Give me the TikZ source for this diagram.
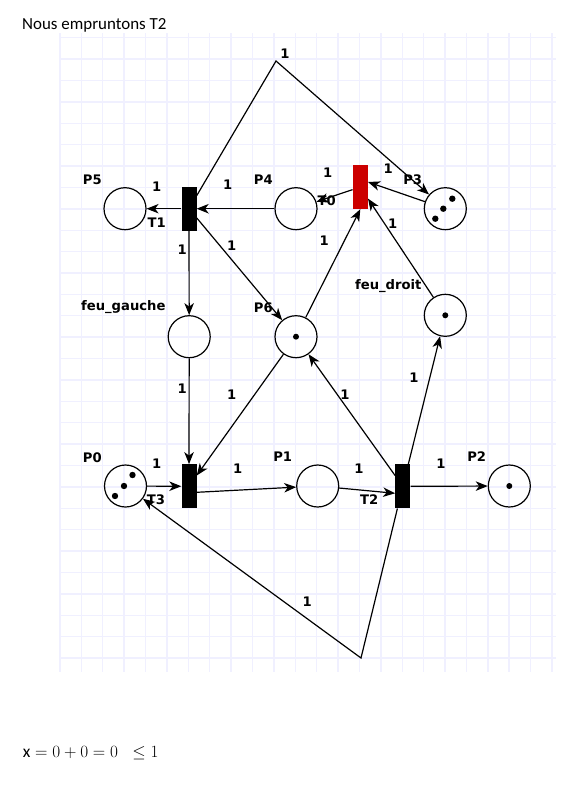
\documentclass[tikz,border=0pt]{standalone}
\usepackage{fontspec}
\setmainfont{Carlito}
\newfontfamily\lblfont{DejaVu Sans}
\usetikzlibrary{arrows.meta}
\definecolor{gridLav}{RGB}{240,240,255}
\definecolor{trRed}{RGB}{204,0,0}

\begin{document}
\begin{tikzpicture}[x=1bp,y=-1bp,
    pl/.style={circle,draw,line width=1.2bp,minimum size=42bp,inner sep=0pt},
    tr/.style={rectangle,fill=black,minimum width=15bp,minimum height=44bp,inner sep=0pt},
    arc/.style={line width=1.2bp,-{Stealth[length=12bp,width=9.5bp,inset=3.5bp]}},
    wt/.style={font=\lblfont\bfseries\fontsize{13.2}{13.2}\selectfont,inner sep=0pt},
    tok/.style={fill=black}
  ]
  \useasboundingbox (0,0) rectangle (574,791);
  % squared paper
  \foreach \i in {0,...,23}
    \draw[gridLav,line width=1.4bp] ({60+21.39*\i},33) -- ({60+21.39*\i},672);
  \foreach \j in {0,...,29}
    \draw[gridLav,line width=1.4bp] (60,{37.7+21.39*\j}) -- (556,{37.7+21.39*\j});

  \node[anchor=base west,inner sep=0pt,font=\fontsize{17}{19}\selectfont] (title) at (22,29.3) {Nous empruntons T2};

  % places and transitions
  \node[pl] (p5) at (125,208.7) {};
  \node[tr] (t1) at (189,208.7) {};
  \node[pl] (p4) at (296,208.7) {};
  \node[tr,fill=trRed] (t0) at (360.3,187) {};
  \node[pl] (p3) at (445.3,208.7) {};
  \node[pl] (fg) at (189.2,336.7) {};
  \node[pl] (p6) at (296,336.7) {};
  \node[pl] (fd) at (445.3,315.3) {};
  \node[pl] (p0) at (125.5,486) {};
  \node[tr] (t3) at (189,486.3) {};
  \node[pl] (p1) at (317.7,486) {};
  \node[tr] (t2) at (402.8,486.3) {};
  \node[pl] (p2) at (509.3,486) {};
  \coordinate (top) at (276,61);
  \coordinate (bot) at (361,658);

  % tokens
  \fill[tok] (p6.center) circle (3bp);
  \fill[tok] (fd.center) circle (3bp);
  \fill[tok] (p2.center) circle (3bp);
  \fill[tok] ([shift={(-10,10)}]p3.center) circle (3.2bp);
  \fill[tok] ([shift={(-2,0)}]p3.center) circle (3.2bp);
  \fill[tok] ([shift={(7,-10)}]p3.center) circle (3.2bp);
  \fill[tok] ([shift={(-10.5,10)}]p0.center) circle (3.2bp);
  \fill[tok] ([shift={(-1.5,0)}]p0.center) circle (3.2bp);
  \fill[tok] ([shift={(7,-11)}]p0.center) circle (3.2bp);

  % arcs
  \draw[arc] (t1) -- (p5);
  \draw[arc] (p4) -- (t1);
  \draw[arc] (t1) -- (top) -- (p3);
  \draw[arc] (t1) -- (fg);
  \draw[arc] (t1) -- (p6);
  \draw[arc] (t0) -- (p4);
  \draw[arc] (p3) -- ([yshift=5bp]t0.east);
  \draw[arc] (p6) -- (t0.south);
  \draw[arc] (fd) -- (t0);
  \draw[arc] (fg) -- (t3);
  \draw[arc] (p6) -- (t3);
  \draw[arc] (p0) -- (t3);
  \draw[arc] ([yshift=-6bp]t3.east) -- (p1);
  \draw[arc] (p1) -- ([yshift=-7bp]t2.west);
  \draw[arc] (t2) -- (p2);
  \draw[arc] (t2) -- (p6);
  \draw[arc] (t2) -- (fd);
  \draw[arc] (t2) -- (bot) -- (p0);

  % names
  \node[wt] (lp5) at (92.3,179.3) {P5};
  \node[wt] (lp4) at (263.3,179.3) {P4};
  \node[wt] (lp3) at (412.7,179.3) {P3};
  \node[wt] (lfg) at (123.3,307.3) {feu\_gauche};
  \node[wt] (lp6) at (263.3,307.3) {P6};
  \node[wt] (lfd) at (388.3,286) {feu\_droit};
  \node[wt] (lp0) at (92.3,457.3) {P0};
  \node[wt] (lp1) at (282.7,456.7) {P1};
  \node[wt] (lp2) at (476.7,456.7) {P2};
  \node[wt] (lt1) at (156.7,222.3) {T1};
  \node[wt] (lt0) at (326.7,200.7) {T0};
  \node[wt] (lt3) at (156,500) {T3};
  \node[wt] (lt2) at (369.3,499.3) {T2};

  % weights
  \node[wt] (w1) at (285,53.3) {1};
  \node[wt] (w2) at (156.7,186.7) {1};
  \node[wt] (w3) at (227.7,184.3) {1};
  \node[wt] (w4) at (182.3,250) {1};
  \node[wt] (w5) at (231.7,246) {1};
  \node[wt] (w6) at (327.7,172.7) {1};
  \node[wt] (w7) at (388.3,168.3) {1};
  \node[wt] (w8) at (324.3,240.7) {1};
  \node[wt] (w9) at (392.7,223.3) {1};
  \node[wt] (w10) at (182.3,388.3) {1};
  \node[wt] (w11) at (231.7,394.3) {1};
  \node[wt] (w12) at (345,394.3) {1};
  \node[wt] (w13) at (414,377.7) {1};
  \node[wt] (w14) at (156.7,464) {1};
  \node[wt] (w15) at (237.7,469) {1};
  \node[wt] (w16) at (359,468.3) {1};
  \node[wt] (w17) at (441,464) {1};
  \node[wt] (w18) at (307.3,601.7) {1};

  \node[anchor=base west,inner sep=0pt,font=\fontsize{17.5}{20}\selectfont] (cond) at (22.7,757.3) {$\mathrm{x}=0+0=0\;\;\leq 1$};
\end{tikzpicture}
\end{document}
